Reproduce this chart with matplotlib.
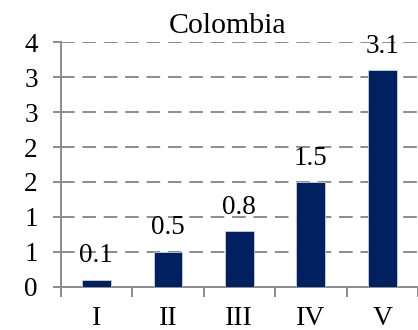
import math
import numpy as np
import matplotlib.pyplot as plt
from matplotlib.ticker import FixedLocator, FuncFormatter

plt.rcParams['font.family'] = ['Liberation Serif', 'DejaVu Serif']

# Quintile values for the country
quintiles = ["I", "II", "III", "IV", "V"]
values = [0.1, 0.5, 0.8, 1.5, 3.1]
y_ticks = [0, 0.5, 1, 1.5, 2, 2.5, 3, 3.5]

bar_color = "#002060"
grid_color = "#8c8c8c"

fig = plt.figure(figsize=(4.18, 3.3), dpi=100)
ax = fig.add_axes([0.145, 0.131, 0.855, 0.741])

x = np.arange(len(quintiles))
bars = ax.bar(x, values, width=0.4, color=bar_color, edgecolor="#c8d0e0",
              linewidth=0.6, zorder=3)

for xi, v in zip(x, values):
    ax.annotate(f"{v:.1f}", (xi, v), xytext=(0, 12.5), textcoords="offset points",
                ha="center", va="baseline", fontsize=19.5, zorder=2)

ax.set_xlim(-0.5, len(quintiles) - 0.5)
ax.set_ylim(0, 3.5)

# y axis: half-unit steps, labels rounded half up
ax.yaxis.set_major_locator(FixedLocator(y_ticks))
ax.yaxis.set_major_formatter(FuncFormatter(lambda v, p: str(int(math.floor(v + 0.5)))))
ax.grid(axis="y", color=grid_color, linestyle=(0, (7, 4)), linewidth=1.4, zorder=1)

# x axis: labels at centres, tick marks between categories
ax.set_xticks(x)
ax.set_xticklabels(quintiles)
ax.set_xticks(np.arange(-0.5, len(quintiles)), minor=True)
ax.tick_params(axis="x", which="major", length=0, pad=14, labelsize=20)
ax.tick_params(axis="x", which="minor", length=7.5, width=1.4, color=grid_color)
ax.tick_params(axis="y", length=5.5, width=1.4, color=grid_color, pad=11, labelsize=19.5)

for side in ["top", "right"]:
    ax.spines[side].set_visible(False)
for side in ["left", "bottom"]:
    ax.spines[side].set_color(grid_color)
    ax.spines[side].set_linewidth(1.4)

ax.set_title("Colombia", fontsize=21.5, x=0.467, pad=7)

fig.savefig("out.png", dpi=100)
